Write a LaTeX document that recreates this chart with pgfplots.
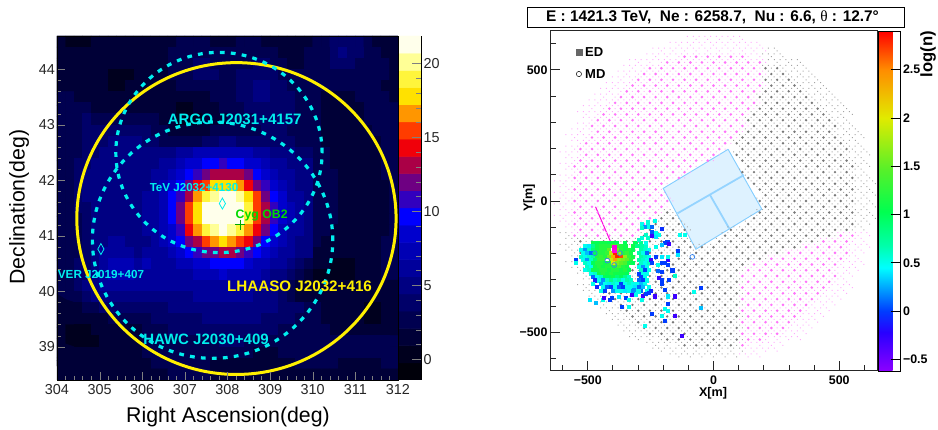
\documentclass[border=0pt]{standalone}
\usepackage{fontspec}
\usepackage{pgfplots}
\usepackage{pgfplotstable}
\pgfplotsset{compat=1.18}
\setmainfont{Liberation Sans}
\newfontfamily\srf{Liberation Serif}
\newcommand\fs[1]{\fontsize{#1}{#1}\selectfont}
\definecolor{pkB}{RGB}{255,115,250}
\definecolor{pkT}{RGB}{255,170,252}
\definecolor{gyB}{RGB}{120,120,120}
\definecolor{gyT}{RGB}{165,165,165}
\definecolor{cy}{RGB}{0,238,238}
\definecolor{yl}{RGB}{255,240,0}
\definecolor{pond}{RGB}{130,205,255}
\definecolor{pondf}{RGB}{222,242,255}
\definecolor{navy}{RGB}{0,0,55}
\newcommand\tinyd{\pgfpathrectangle{\pgfqpoint{5.25pt}{-.5pt}}{\pgfqpoint{1pt}{1pt}}\pgfpathrectangle{\pgfqpoint{2.4pt}{2.4pt}}{\pgfqpoint{1pt}{1pt}}\pgfpathrectangle{\pgfqpoint{-3.4pt}{2.4pt}}{\pgfqpoint{1pt}{1pt}}\pgfusepathqfill}
\pgfdeclareplotmark{pkbig}{\pgfsetfillcolor{pkT}\tinyd\pgfsetfillcolor{pkB}\pgfpathcircle{\pgfpointorigin}{1.45pt}\pgfusepathqfill}
\pgfdeclareplotmark{gybig}{\pgfsetfillcolor{gyT}\tinyd\pgfsetfillcolor{gyB}\pgfpathcircle{\pgfpointorigin}{1.35pt}\pgfusepathqfill}
\pgfdeclareplotmark{pksm}{\pgfsetfillcolor{pkT}\tinyd}
\pgfdeclareplotmark{gysm}{\pgfsetfillcolor{gyT}\tinyd}
\pgfplotsset{
 colormap={hm}{rgb255=(0,0,10) rgb255=(0,0,30) rgb255=(0,0,55) rgb255=(0,0,80) rgb255=(0,0,105) rgb255=(0,0,130) rgb255=(0,0,155) rgb255=(0,0,180) rgb255=(0,0,205) rgb255=(0,0,255) rgb255=(50,0,190) rgb255=(110,0,130) rgb255=(170,0,70) rgb255=(240,0,10) rgb255=(255,60,0) rgb255=(255,150,0) rgb255=(255,225,0) rgb255=(255,245,60) rgb255=(255,255,150) rgb255=(255,255,235)},
 colormap={rb}{rgb255(0pt)=(140,0,255) rgb255(40pt)=(40,0,255) rgb255(62pt)=(0,60,255) rgb255(107pt)=(0,255,255) rgb255(130pt)=(0,255,170) rgb255(165pt)=(0,255,80) rgb255(210pt)=(90,240,40) rgb255(262pt)=(225,235,0) rgb255(312pt)=(255,140,0) rgb255(352pt)=(255,0,0)},
 pkb/.style={only marks,mark=pkbig}, gyb/.style={only marks,mark=gybig},
 pks/.style={only marks,mark=pksm}, gys/.style={only marks,mark=gysm},
 sq/.style={scatter,only marks,mark=square*,mark size=1.55pt,mark options={line width=0pt},point meta=explicit,scatter/use mapped color={draw=mapped color,fill=mapped color}},
}
\newcommand\R[3]{\addplot[#1] table[row sep=\\,header=false,x index=0,y expr=#2]{#3};}
\newcommand\C[2]{\addplot[sq] table[row sep=\\,header=false,x index=0,meta index=1,y expr=#1]{#2};}
\newcommand\Tx[4][]{\node[inner sep=0pt,#1] at ({#2*1pt},{(430-#3)*1pt}) {#4};}
\begin{document}
\begin{tikzpicture}
\path[use as bounding box] (0,0) rectangle (938pt,430pt);
\begin{axis}[at={(57pt,50pt)},anchor=south west,scale only axis,width=341pt,height=344pt,
 xmin=304,xmax=312,ymin=38.4,ymax=44.6,colormap name=hm,colormap access=piecewise constant,
 point meta min=-1.4,point meta max=21.85,axis on top,tick align=inside,xtick pos=left,ytick pos=left,
 xtick={304,...,312},ytick={39,...,44},minor x tick num=4,minor y tick num=4,
 major tick length=8pt,minor tick length=4pt,
 /pgf/number format/assume math mode=true,
 tick label style={font=\fs{14.4},color=black!85},xticklabel style={yshift=-1pt},yticklabel style={xshift=1.5pt},
 axis line style={line width=.5pt}]
\addplot[fill=navy,draw=none] coordinates {(304,38.4)(312,38.4)(312,44.6)(304,44.6)(304,38.4)};
\addplot[matrix plot*,mesh/cols=40,point meta=explicit] table[row sep=\\,header=false,meta index=0,x expr={304.1+0.2*mod(\coordindex,40)},y expr={44.5-0.2*floor(\coordindex/40)}]{
1\\0\\0\\0\\1\\1\\1\\2\\2\\2\\2\\2\\2\\2\\3\\3\\3\\3\\2\\2\\2\\3\\3\\3\\2\\2\\2\\2\\2\\2\\3\\3\\4\\4\\4\\4\\3\\2\\2\\2\\
1\\1\\1\\1\\1\\1\\1\\2\\2\\2\\2\\2\\2\\3\\3\\3\\3\\3\\3\\3\\3\\3\\3\\3\\3\\3\\2\\2\\2\\3\\3\\3\\4\\5\\4\\4\\3\\3\\2\\2\\
2\\2\\2\\1\\1\\1\\1\\1\\1\\1\\2\\2\\2\\3\\3\\3\\4\\4\\3\\3\\3\\3\\3\\4\\4\\3\\3\\2\\2\\3\\3\\3\\4\\4\\4\\3\\3\\3\\3\\2\\
2\\2\\2\\2\\1\\1\\0\\0\\0\\1\\1\\2\\2\\3\\3\\3\\4\\4\\4\\3\\3\\4\\4\\4\\4\\4\\3\\3\\3\\3\\3\\3\\3\\3\\3\\3\\3\\3\\3\\2\\
2\\2\\2\\2\\1\\1\\0\\0\\1\\1\\1\\2\\2\\2\\3\\3\\3\\3\\3\\3\\3\\4\\4\\5\\5\\4\\4\\3\\3\\3\\3\\3\\3\\3\\3\\3\\3\\3\\2\\2\\
3\\3\\2\\2\\2\\1\\1\\1\\1\\1\\2\\2\\2\\2\\1\\1\\2\\2\\3\\3\\3\\4\\4\\5\\5\\4\\4\\4\\3\\3\\3\\2\\2\\2\\2\\3\\3\\3\\3\\2\\
3\\3\\3\\3\\2\\2\\2\\2\\2\\2\\2\\2\\2\\1\\0\\0\\1\\1\\2\\3\\3\\3\\4\\4\\4\\4\\4\\4\\3\\3\\3\\2\\2\\2\\2\\2\\3\\3\\3\\3\\
3\\3\\3\\4\\3\\3\\3\\3\\3\\3\\3\\3\\2\\1\\0\\0\\0\\1\\2\\2\\3\\3\\3\\4\\4\\4\\4\\4\\3\\3\\3\\2\\2\\1\\2\\2\\3\\3\\3\\3\\
3\\3\\3\\4\\4\\4\\4\\4\\4\\4\\4\\3\\3\\2\\1\\1\\1\\2\\3\\3\\3\\3\\3\\3\\4\\4\\4\\3\\3\\3\\3\\2\\1\\1\\1\\2\\2\\3\\3\\3\\
3\\3\\3\\4\\4\\4\\5\\5\\5\\5\\4\\4\\3\\3\\3\\3\\3\\4\\4\\5\\5\\4\\4\\4\\4\\4\\4\\4\\3\\3\\3\\2\\1\\1\\1\\1\\2\\2\\3\\3\\
3\\3\\3\\4\\4\\5\\5\\5\\5\\5\\5\\5\\5\\5.5\\6\\6.4\\7\\7.3\\7.7\\7.8\\7.7\\7.5\\7\\6.5\\6\\5.5\\5\\4.5\\4\\4\\3\\3\\2\\1\\1\\1\\2\\2\\3\\3\\
3\\3\\4\\4\\5\\5\\5\\5\\5\\4.7\\4.9\\5.2\\5.6\\6.2\\7\\7.9\\8.7\\9.5\\10.1\\10.3\\10.2\\9.7\\9\\8.1\\7.2\\6.5\\5.8\\5.3\\5\\4.8\\3\\3\\2\\2\\1\\1\\2\\2\\3\\3\\
3\\3\\4\\5\\5\\5\\5\\5\\5\\4.9\\5.1\\5.6\\6.2\\7.2\\8.4\\9.7\\11.1\\12.2\\13.1\\13.5\\13.3\\12.6\\11.4\\10.1\\8.7\\7.6\\6.5\\5.8\\5.2\\5\\3\\3\\3\\2\\2\\2\\2\\2\\3\\3\\
3\\3\\4\\5\\5\\5\\5\\5\\5\\5\\5.4\\6\\6.9\\8.3\\9.9\\11.8\\14.2\\16\\17.5\\18\\17.6\\16.5\\14.8\\12.3\\10.4\\8.8\\7.3\\6.3\\5.5\\5\\3\\3\\3\\2\\2\\2\\2\\2\\2\\3\\
3\\3\\4\\5\\5\\5\\5\\5\\5\\5.1\\5.6\\6.4\\7.5\\9.2\\11.2\\13.5\\16.5\\18.9\\20.6\\21.2\\20.9\\19.6\\17.5\\15\\11.8\\9.8\\7.9\\6.7\\5.7\\5.3\\3\\3\\3\\2\\2\\2\\2\\2\\2\\3\\
3\\3\\4\\4\\5\\5\\5\\5\\5\\5.2\\5.7\\6.6\\7.8\\9.7\\11.9\\15\\18\\20.7\\21.8\\21.8\\21.8\\21\\18.8\\16\\12.6\\10.4\\8.3\\6.9\\5.9\\5.4\\3\\3\\3\\2\\2\\2\\2\\2\\2\\3\\
3\\3\\3\\4\\5\\5\\5\\5\\5\\5.2\\5.7\\6.6\\7.8\\9.7\\11.9\\15\\18\\20.7\\21.8\\21.8\\21.8\\21\\18.8\\16\\12.6\\10.4\\8.3\\6.9\\5.9\\5.4\\3\\3\\3\\2\\2\\2\\2\\2\\2\\3\\
3\\3\\3\\4\\5\\5\\5\\5\\5\\5.1\\5.6\\6.3\\7.4\\9\\11\\13.8\\16.3\\18.5\\20.2\\20.9\\20.5\\19.1\\17\\14.5\\11.6\\9.6\\7.8\\6.6\\5.7\\5.3\\3\\3\\2\\2\\2\\2\\2\\2\\2\\3\\
3\\3\\3\\4\\5\\5\\6\\6\\5\\5\\5.3\\5.9\\6.8\\8.1\\9.6\\11.4\\13.6\\15.3\\16.7\\17.4\\17.1\\16\\14.2\\11.9\\10.1\\8.5\\7.1\\6.2\\5.5\\5.1\\3\\2\\2\\2\\2\\2\\2\\2\\3\\3\\
3\\3\\3\\4\\5\\6\\6\\6\\6\\5.3\\5.6\\6\\6.6\\7.5\\8.6\\9.8\\11\\11.6\\12.5\\12.8\\12.6\\12\\10.9\\9.6\\8.4\\7.3\\6.3\\5.7\\5.2\\4.9\\2\\2\\1\\1\\1\\1\\2\\2\\3\\3\\
3\\3\\4\\4\\5\\6\\7\\7\\7\\6.7\\6.9\\6.6\\6.5\\6.6\\7\\7.5\\8.3\\9\\9.5\\9.7\\9.6\\9.2\\8.5\\7.7\\6.9\\6.3\\5.6\\4.7\\3.9\\3\\1\\1\\0\\0\\0\\1\\1\\2\\3\\3\\
3\\3\\4\\4\\5\\6\\7\\7\\7\\6.6\\6.7\\6.3\\6\\5.9\\6.2\\6.7\\7.1\\7.5\\7.8\\7.9\\7.8\\7.6\\7.2\\6.8\\6.4\\5.5\\4.6\\3.4\\2.2\\1.1\\0\\0\\0\\0\\0\\1\\2\\2\\3\\3\\
3\\3\\4\\5\\5\\6\\6\\6\\6\\6\\6.1\\6.2\\6\\5.8\\5.7\\5.9\\6\\6.2\\6.3\\6.4\\6.3\\6.2\\6\\5.8\\5.6\\5\\4\\3\\2\\1\\1\\1\\1\\1\\1\\1\\1\\2\\2\\2\\
3\\3\\3\\4\\5\\5\\5\\5\\5\\5\\5\\5\\5\\5.2\\5.3\\5.4\\5.6\\5.7\\5.7\\5.8\\5.7\\5.7\\5.6\\5.5\\5.2\\5\\4\\3\\2\\2\\2\\2\\2\\2\\1\\1\\1\\1\\1\\1\\
1\\2\\2\\3\\3\\4\\4\\4\\4\\4\\4\\4\\4\\5\\5\\5\\5\\5\\5\\5\\5\\5\\5\\5\\5\\5\\4\\4\\4\\3\\3\\2\\2\\2\\1\\1\\0\\0\\1\\1\\
1\\1\\1\\1\\2\\2\\3\\3\\3\\3\\3\\4\\4\\4\\4\\4\\4\\5\\5\\5\\5\\5\\5\\5\\4\\4\\4\\4\\3\\3\\3\\2\\2\\2\\2\\1\\0\\0\\1\\1\\
1\\0\\0\\0\\1\\1\\2\\2\\2\\2\\3\\3\\3\\4\\4\\4\\4\\4\\4\\4\\4\\4\\4\\4\\4\\4\\3\\3\\3\\3\\3\\3\\2\\2\\2\\2\\2\\2\\2\\2\\
1\\0\\0\\0\\0\\1\\1\\1\\2\\2\\3\\3\\3\\3\\3\\3\\3\\3\\3\\4\\4\\4\\3\\3\\3\\3\\3\\3\\3\\3\\3\\3\\3\\3\\3\\3\\3\\3\\3\\3\\
2\\1\\1\\1\\1\\1\\1\\2\\2\\2\\3\\3\\3\\3\\3\\3\\3\\3\\3\\3\\3\\3\\3\\2\\2\\2\\3\\3\\3\\3\\3\\3\\3\\3\\3\\3\\3\\3\\3\\3\\
2\\2\\2\\2\\2\\2\\2\\2\\2\\2\\2\\3\\3\\3\\3\\3\\3\\3\\2\\2\\2\\2\\2\\2\\2\\2\\2\\2\\3\\3\\3\\3\\3\\2\\2\\2\\2\\2\\3\\3\\
1\\2\\2\\2\\2\\2\\2\\2\\2\\2\\2\\2\\2\\3\\3\\3\\3\\3\\2\\2\\2\\2\\2\\1\\1\\2\\2\\2\\2\\2\\2\\2\\2\\2\\2\\2\\2\\2\\2\\2\\
};
\draw[yl,line width=3pt] (axis cs:308.21,41.31) ellipse [x radius=3.745,y radius=2.81];
\draw[cy,line width=3.2pt,dash pattern=on 4.8pt off 6.2pt] (axis cs:307.8,42.5) ellipse [x radius=2.42,y radius=1.805];
\draw[cy,line width=3.2pt,dash pattern=on 4.8pt off 6.2pt] (axis cs:307.65,40.92) ellipse [x radius=2.82,y radius=2.13];
\addplot[only marks,mark=diamond,mark size=5.5pt,mark options={xscale=.75,draw=cy,line width=.8pt}] coordinates {(307.88,41.58)(305.03,40.76)};
\addplot[only marks,mark=+,mark size=5pt,mark options={draw=green!65!black,line width=.6pt}] coordinates {(308.3,41.2)};
\end{axis}
\begin{axis}[at={(399pt,50pt)},anchor=south west,scale only axis,width=22pt,height=344pt,
 xmin=0,xmax=1,ymin=-1.4,ymax=21.85,colormap name=hm,colormap access=piecewise constant,
 point meta min=-1.4,point meta max=21.85,axis on top,axis x line=none,axis y line*=right,
 ytick={0,5,...,20},minor y tick num=4,tick align=inside,major tick length=9pt,minor tick length=5pt,
 /pgf/number format/assume math mode=true,tick label style={font=\fs{14.4},color=black!85},yticklabel style={xshift=-1pt}]
\addplot[matrix plot*,mesh/cols=2,point meta=y] coordinates {
(0,-0.82)(1,-0.82)(0,0.34)(1,0.34)(0,1.51)(1,1.51)(0,2.67)(1,2.67)(0,3.83)(1,3.83)(0,4.99)(1,4.99)(0,6.16)(1,6.16)(0,7.32)(1,7.32)(0,8.48)(1,8.48)(0,9.64)(1,9.64)(0,10.81)(1,10.81)(0,11.97)(1,11.97)(0,13.13)(1,13.13)(0,14.29)(1,14.29)(0,15.46)(1,15.46)(0,16.62)(1,16.62)(0,17.78)(1,17.78)(0,18.94)(1,18.94)(0,20.11)(1,20.11)(0,21.27)(1,21.27)};
\end{axis}
\begin{axis}[at={(550pt,59pt)},anchor=south west,scale only axis,width=327pt,height=340pt,
 xmin=-650,xmax=650,ymin=-648,ymax=648,colormap name=rb,point meta min=-0.62,point meta max=2.9,
 tick align=inside,xtick pos=left,ytick pos=left,xtick={-500,0,500},ytick={-500,0,500},
 xticklabels={−500,0,500},yticklabels={−500,0,500},
 minor xtick={-600,-400,-300,-200,-100,100,200,300,400,600},minor ytick={-600,-400,-300,-200,-100,100,200,300,400,600},
 major tick length=10pt,minor tick length=5.5pt,
 tick label style={font=\fs{12.4}\bfseries},xticklabel style={yshift=-1pt},yticklabel style={xshift=1pt},
 axis line style={line width=1pt,black!85},tick style={line width=.8pt,black!85},
 colorbar,colorbar shift/.style={xshift=1pt},
 colorbar style={width=22pt,ytick={-0.5,0,0.5,1,1.5,2,2.5},yticklabels={−0.5,0,0.5,1,1.5,2,2.5},tick align=inside,ytick pos=right,yticklabel pos=right,
  major tick length=10pt,tick label style={font=\fs{12.4}\bfseries},yticklabel style={xshift=-1pt},axis line style={line width=.6pt},tick style={line width=.8pt,black}}]
\R{pkb}{550}{-115\\-69\\-23\\23\\69\\115\\}
\R{pkb}{528}{-184\\-138\\-92\\-46\\0\\46\\92\\138\\184\\}
\R{pkb}{506}{-253\\-207\\-161\\-115\\-69\\-23\\23\\69\\115\\161\\}
\R{gyb}{506}{207\\253\\}
\R{pkb}{484}{-276\\-230\\-184\\-138\\-92\\-46\\0\\46\\92\\138\\184\\}
\R{gyb}{484}{230\\276\\}
\R{pkb}{462}{-299\\-253\\-207\\-161\\-115\\-69\\-23\\23\\69\\115\\161\\}
\R{gyb}{462}{207\\253\\299\\}
\R{pkb}{440}{-322\\-276\\-230\\-184\\-138\\-92\\-46\\0\\46\\92\\138\\184\\}
\R{gyb}{440}{230\\276\\322\\}
\R{pkb}{418}{-345\\-299\\-253\\-207\\-161\\-115\\-69\\-23\\23\\69\\115\\161\\}
\R{gyb}{418}{207\\253\\299\\345\\}
\R{pkb}{396}{-368\\-322\\-276\\-230\\-184\\-138\\-92\\-46\\0\\46\\92\\138\\}
\R{gyb}{396}{184\\230\\276\\322\\368\\}
\R{pkb}{374}{-391\\-345\\-299\\-253\\-207\\-161\\-115\\-69\\-23\\23\\69\\115\\161\\}
\R{gyb}{374}{207\\253\\299\\345\\391\\}
\R{pkb}{352}{-414\\-368\\-322\\-276\\-230\\-184\\-138\\-92\\-46\\0\\46\\92\\138\\}
\R{gyb}{352}{184\\230\\276\\322\\368\\414\\}
\R{pkb}{330}{-437\\-391\\-345\\-299\\-253\\-207\\-161\\-115\\-69\\-23\\23\\69\\115\\}
\R{gyb}{330}{161\\207\\253\\299\\345\\391\\437\\}
\R{pkb}{308}{-460\\-414\\-368\\-322\\-276\\-230\\-184\\-138\\-92\\-46\\0\\46\\92\\}
\R{gyb}{308}{138\\184\\230\\276\\322\\368\\414\\460\\}
\R{pkb}{286}{-483\\-437\\-391\\-345\\-299\\-253\\-207\\-161\\-115\\-69\\-23\\23\\69\\115\\}
\R{gyb}{286}{161\\207\\253\\299\\345\\391\\437\\483\\}
\R{pkb}{264}{-460\\-414\\-368\\-322\\-276\\-230\\-184\\-138\\-92\\-46\\0\\46\\92\\}
\R{gyb}{264}{138\\184\\230\\276\\322\\368\\414\\460\\}
\R{pkb}{242}{-483\\-437\\-391\\-345\\-299\\-253\\-207\\-161\\-115\\-69\\-23\\23\\69\\}
\R{gyb}{242}{115\\161\\207\\253\\299\\345\\391\\437\\483\\}
\R{pkb}{220}{-506\\-460\\-414\\-368\\-322\\-276\\-230\\-184\\-138\\-92\\-46\\0\\46\\}
\R{gyb}{220}{92\\138\\184\\230\\276\\322\\368\\414\\460\\506\\}
\R{pkb}{198}{-529\\-483\\-437\\-391\\-345\\-299\\-253\\-207\\-161\\-115\\-69\\-23\\23\\}
\R{gyb}{198}{115\\161\\207\\253\\299\\345\\391\\437\\483\\529\\}
\R{pkb}{176}{-506\\-460\\-414\\-368\\-322\\-276\\-230\\-184\\-138\\-92\\-46\\0\\}
\R{gyb}{176}{92\\138\\184\\230\\276\\322\\368\\414\\460\\506\\}
\R{pkb}{154}{-529\\-483\\-437\\-391\\-345\\-299\\-253\\-207\\-161\\-115\\-69\\-23\\}
\R{gyb}{154}{115\\161\\207\\253\\299\\345\\391\\437\\483\\529\\}
\R{pkb}{132}{-552\\-506\\-460\\-414\\-368\\-322\\-276\\-230\\-184\\-138\\-92\\}
\R{gyb}{132}{138\\184\\230\\276\\322\\368\\414\\460\\506\\552\\}
\R{pkb}{110}{-529\\-483\\-437\\-391\\-345\\-299\\-253\\-207\\-161\\-115\\}
\R{gyb}{110}{115\\161\\207\\253\\299\\345\\391\\437\\483\\529\\}
\R{pkb}{88}{-552\\-506\\-460\\-414\\-368\\-322\\-276\\-230\\-184\\-138\\}
\R{gyb}{88}{138\\184\\230\\276\\322\\368\\414\\460\\506\\552\\}
\R{pkb}{66}{-529\\-483\\-437\\-391\\-345\\-299\\-253\\-207\\}
\R{gyb}{66}{161\\207\\253\\299\\345\\391\\437\\483\\529\\}
\R{pkb}{44}{-552\\-506\\-460\\-414\\-368\\-322\\-276\\-230\\}
\R{gyb}{44}{184\\230\\276\\322\\368\\414\\460\\506\\552\\}
\R{pkb}{22}{-529\\-483\\-437\\-391\\-345\\-299\\-253\\-207\\}
\R{gyb}{22}{207\\253\\299\\345\\391\\437\\483\\529\\}
\R{pkb}{0}{-552\\-506\\-460\\-414\\-368\\-322\\-276\\-230\\-184\\}
\R{gyb}{0}{184\\230\\276\\322\\368\\414\\460\\506\\552\\}
\R{pkb}{-22}{-529\\-483\\-437\\-391\\-345\\-299\\-253\\-207\\}
\R{gyb}{-22}{207\\253\\299\\345\\391\\437\\483\\529\\}
\R{pkb}{-44}{-552\\-506\\-460\\-414\\-368\\-322\\-276\\-230\\}
\R{gyb}{-44}{-184\\184\\230\\276\\322\\368\\414\\460\\506\\552\\}
\R{pkb}{-66}{-529\\-483\\-437\\-391\\-345\\-299\\-253\\}
\R{gyb}{-66}{-207\\-161\\161\\207\\253\\299\\345\\391\\437\\483\\529\\}
\R{pkb}{-88}{-552\\-506\\-460\\-414\\-368\\-322\\-276\\}
\R{gyb}{-88}{-230\\-184\\-138\\138\\184\\230\\276\\322\\368\\414\\460\\506\\552\\}
\R{pkb}{-110}{-529\\-483\\-437\\-391\\-345\\-299\\}
\R{gyb}{-110}{-253\\-207\\-161\\-115\\69\\115\\161\\207\\253\\299\\345\\391\\437\\483\\529\\}
\R{pkb}{-132}{-552\\-506\\-460\\-414\\-368\\-322\\506\\552\\}
\R{gyb}{-132}{-276\\-230\\-184\\-138\\46\\92\\138\\184\\230\\276\\322\\368\\414\\460\\}
\R{pkb}{-154}{437\\483\\529\\}
\R{gyb}{-154}{-529\\-483\\-437\\-391\\-345\\-299\\-253\\-207\\-161\\-115\\23\\69\\115\\161\\207\\253\\299\\345\\391\\}
\R{pkb}{-176}{368\\414\\460\\506\\}
\R{gyb}{-176}{-506\\-460\\-414\\-368\\-322\\-276\\-230\\-184\\-138\\-92\\-46\\0\\46\\92\\138\\184\\230\\276\\322\\}
\R{pkb}{-198}{299\\345\\391\\437\\483\\529\\}
\R{gyb}{-198}{-529\\-483\\-437\\-391\\-345\\-299\\-253\\-207\\-161\\-115\\-69\\-23\\23\\69\\115\\161\\207\\253\\}
\R{pkb}{-220}{230\\276\\322\\368\\414\\460\\506\\}
\R{gyb}{-220}{-506\\-460\\-414\\-368\\-322\\-276\\-230\\-184\\-138\\-92\\-46\\0\\46\\92\\138\\184\\}
\R{pkb}{-242}{161\\207\\253\\299\\345\\391\\437\\483\\}
\R{gyb}{-242}{-483\\-437\\-391\\-345\\-299\\-253\\-207\\-161\\-115\\-69\\-23\\23\\69\\115\\}
\R{pkb}{-264}{138\\184\\230\\276\\322\\368\\414\\460\\}
\R{gyb}{-264}{-460\\-414\\-368\\-322\\-276\\-230\\-184\\-138\\-92\\-46\\0\\46\\92\\}
\R{pkb}{-286}{115\\161\\207\\253\\299\\345\\391\\437\\483\\}
\R{gyb}{-286}{-483\\-437\\-391\\-345\\-299\\-253\\-207\\-161\\-115\\-69\\-23\\23\\69\\}
\R{pkb}{-308}{138\\184\\230\\276\\322\\368\\414\\460\\}
\R{gyb}{-308}{-460\\-414\\-368\\-322\\-276\\-230\\-184\\-138\\-92\\-46\\0\\46\\92\\}
\R{pkb}{-330}{115\\161\\207\\253\\299\\345\\391\\437\\}
\R{gyb}{-330}{-437\\-391\\-345\\-299\\-253\\-207\\-161\\-115\\-69\\-23\\23\\69\\}
\R{pkb}{-352}{138\\184\\230\\276\\322\\368\\414\\}
\R{gyb}{-352}{-414\\-368\\-322\\-276\\-230\\-184\\-138\\-92\\-46\\0\\46\\92\\}
\R{pkb}{-374}{115\\161\\207\\253\\299\\345\\391\\}
\R{gyb}{-374}{-391\\-345\\-299\\-253\\-207\\-161\\-115\\-69\\-23\\23\\69\\}
\R{pkb}{-396}{138\\184\\230\\276\\322\\368\\}
\R{gyb}{-396}{-368\\-322\\-276\\-230\\-184\\-138\\-92\\-46\\0\\46\\92\\}
\R{pkb}{-418}{115\\161\\207\\253\\299\\345\\}
\R{gyb}{-418}{-345\\-299\\-253\\-207\\-161\\-115\\-69\\-23\\23\\69\\}
\R{pkb}{-440}{138\\184\\230\\276\\322\\}
\R{gyb}{-440}{-322\\-276\\-230\\-184\\-138\\-92\\-46\\0\\46\\92\\}
\R{pkb}{-462}{115\\161\\207\\253\\299\\}
\R{gyb}{-462}{-299\\-253\\-207\\-161\\-115\\-69\\-23\\23\\69\\}
\R{pkb}{-484}{138\\184\\230\\276\\}
\R{gyb}{-484}{-276\\-230\\-184\\-138\\-92\\-46\\0\\46\\92\\}
\R{pkb}{-506}{115\\161\\207\\253\\}
\R{gyb}{-506}{-253\\-207\\-161\\-115\\-69\\-23\\23\\69\\}
\R{pkb}{-528}{138\\184\\}
\R{gyb}{-528}{-184\\-138\\-92\\-46\\0\\46\\92\\}
\R{pkb}{-550}{115\\}
\R{gyb}{-550}{-115\\-69\\-23\\23\\69\\}
\R{pks}{616}{-92\\-46\\0\\46\\92\\}
\R{pks}{594}{-161\\-115\\-69\\-23\\23\\69\\115\\161\\}
\R{pks}{572}{-230\\-184\\-138\\-92\\-46\\0\\46\\92\\138\\184\\}
\R{gys}{572}{230\\}
\R{pks}{550}{-253\\-207\\-161\\161\\}\R{gys}{550}{207\\253\\}
\R{pks}{528}{-322\\-276\\-230\\}\R{gys}{528}{230\\276\\322\\}
\R{pks}{506}{-345\\-299\\}\R{gys}{506}{299\\345\\}
\R{pks}{484}{-368\\-322\\}\R{gys}{484}{322\\368\\}
\R{pks}{462}{-391\\-345\\}\R{gys}{462}{345\\391\\}
\R{pks}{440}{-414\\-368\\}\R{gys}{440}{368\\414\\}
\R{pks}{418}{-437\\-391\\}\R{gys}{418}{391\\437\\}
\R{pks}{396}{-460\\-414\\}\R{gys}{396}{414\\460\\}
\R{pks}{374}{-483\\-437\\}\R{gys}{374}{437\\483\\}
\R{pks}{352}{-506\\-460\\}\R{gys}{352}{460\\506\\}
\R{pks}{330}{-529\\-483\\}\R{gys}{330}{483\\529\\}
\R{pks}{308}{-506\\}\R{gys}{308}{506\\}
\R{pks}{286}{-529\\}\R{gys}{286}{529\\}
\R{pks}{264}{-552\\-506\\}\R{gys}{264}{506\\552\\}
\R{pks}{242}{-575\\-529\\}\R{gys}{242}{529\\575\\}
\R{pks}{220}{-552\\}\R{gys}{220}{552\\}
\R{pks}{198}{-575\\}\R{gys}{198}{575\\}
\R{pks}{176}{-598\\-552\\}\R{gys}{176}{552\\598\\}
\R{pks}{154}{-575\\}\R{gys}{154}{575\\}
\R{pks}{132}{-598\\}\R{gys}{132}{598\\}
\R{pks}{110}{-575\\}\R{gys}{110}{575\\}
\R{pks}{88}{-598\\}\R{gys}{88}{598\\}
\R{pks}{66}{-621\\-575\\}\R{gys}{66}{575\\621\\}
\R{pks}{44}{-598\\}\R{gys}{44}{598\\}
\R{pks}{22}{-621\\-575\\}\R{gys}{22}{575\\621\\}
\R{pks}{0}{-598\\}\R{gys}{0}{598\\}
\R{pks}{-22}{-621\\-575\\}\R{gys}{-22}{575\\621\\}
\R{pks}{-44}{-598\\}\R{gys}{-44}{598\\}
\R{pks}{-66}{-621\\-575\\}\R{gys}{-66}{575\\621\\}
\R{pks}{-88}{-598\\}\R{gys}{-88}{598\\}
\R{pks}{-110}{-575\\}\R{gys}{-110}{575\\}
\R{gys}{-132}{-598\\}\R{pks}{-132}{598\\}
\R{gys}{-154}{-575\\}\R{pks}{-154}{575\\}
\R{gys}{-176}{-598\\-552\\}\R{pks}{-176}{552\\598\\}
\R{gys}{-198}{-575\\}\R{pks}{-198}{575\\}
\R{gys}{-220}{-552\\}\R{pks}{-220}{552\\}
\R{gys}{-242}{-575\\-529\\}\R{pks}{-242}{529\\575\\}
\R{gys}{-264}{-552\\-506\\}\R{pks}{-264}{506\\552\\}
\R{gys}{-286}{-529\\}\R{pks}{-286}{529\\}
\R{gys}{-308}{-506\\}\R{pks}{-308}{506\\}
\R{gys}{-330}{-529\\-483\\}\R{pks}{-330}{483\\529\\}
\R{gys}{-352}{-506\\-460\\}\R{pks}{-352}{460\\506\\}
\R{gys}{-374}{-483\\-437\\}\R{pks}{-374}{437\\483\\}
\R{gys}{-396}{-460\\-414\\}\R{pks}{-396}{414\\460\\}
\R{gys}{-418}{-437\\-391\\}\R{pks}{-418}{391\\437\\}
\R{gys}{-440}{-414\\-368\\}\R{pks}{-440}{368\\414\\}
\R{gys}{-462}{-391\\-345\\}\R{pks}{-462}{345\\391\\}
\R{gys}{-484}{-368\\-322\\}\R{pks}{-484}{322\\368\\}
\R{gys}{-506}{-345\\-299\\}\R{pks}{-506}{299\\345\\}
\R{gys}{-528}{-322\\-276\\-230\\}\R{pks}{-528}{230\\276\\322\\}
\R{gys}{-550}{-253\\-207\\-161\\}\R{pks}{-550}{161\\207\\253\\}
\R{gys}{-572}{-230\\-184\\-138\\-92\\-46\\0\\46\\92\\}\R{pks}{-572}{138\\184\\230\\}
\R{gys}{-594}{-161\\-115\\-69\\-23\\23\\69\\}\R{pks}{-594}{115\\161\\}
\addplot[fill=pondf,draw=pond,line width=.9pt] coordinates {(58,197)(-200,48)(-70,-184)(192,-31)(58,197)};
\addplot[draw=pond!85,line width=1.8pt] coordinates {(-143,-47)(121,99)};
\addplot[draw=pond!85,line width=1.8pt] coordinates {(-14,23)(62,-104)};
\addplot[only marks,mark=square*,mark size=3pt,mark options={fill=black!60,draw=black!60}] coordinates {(-532,566)};
\addplot[only marks,mark=o,mark size=2.6pt,mark options={draw=black,line width=.5pt}] coordinates {(-535,484)};
\addplot[draw={rgb,255:red,255;green,0;blue,220},line width=1pt] coordinates {(-469,-22)(-395,-187)};
\C{-160}{-480 1.1\\-464 1\\-448 1.1\\-432 1.1\\-416 1\\-400 1.1\\-384 1\\-352 1\\-310 1\\-288 .8\\}
\C{-173}{-510 .5\\-494 .4\\-478 .8\\-462 1.1\\-446 1.2\\-430 1.2\\-414 1.2\\-398 1.4\\-382 1.3\\-366 1.2\\-350 1.1\\-318 1.1\\-302 .8\\-286 .7\\-270 .6\\}
\C{-186}{-528 .5\\-512 .2\\-496 .6\\-480 .9\\-464 1.1\\-448 1.2\\-432 1.2\\-416 1.5\\-384 1.6\\-368 1.2\\-352 1.1\\-336 1.2\\-320 1\\-288 .7\\-272 .6\\-256 .5\\}
\C{-199}{-520 .5\\-504 .3\\-488 .1\\-472 1\\-456 1.2\\-440 1.2\\-424 1.3\\-408 1.9\\-392 2.8\\-376 1.7\\-360 1.2\\-344 1.3\\-328 1.1\\-296 .7\\-280 .5\\-264 .1\\}
\C{-212}{-528 .6\\-512 .5\\-496 .6\\-480 .7\\-464 1.2\\-448 1.3\\-432 1.2\\-416 1.6\\-400 2.3\\-384 2.8\\-368 2.7\\-352 1.7\\-336 1.3\\-320 1.1\\-288 .7\\-272 .6\\-256 .5\\}
\C{-225}{-548 0\\-520 .5\\-504 .2\\-488 .6\\-472 .9\\-456 1.3\\-440 1.3\\-408 1.9\\-392 2.4\\-376 1.7\\-360 1.6\\-344 1.5\\-328 1.2\\-296 .7\\-280 .6\\-264 .5\\-248 0\\}
\C{-238}{-545 .5\\-512 .6\\-496 .5\\-480 1\\-464 1.2\\-448 1.2\\-432 1.1\\-416 1.2\\-400 2\\-384 1.6\\-368 1.5\\-352 1.4\\-336 1.1\\-320 1\\-288 .6\\-272 .5\\-256 .6\\}
\C{-251}{-504 .6\\-488 .5\\-472 1.1\\-456 1.2\\-440 1.1\\-424 1.2\\-408 1.2\\-392 1.2\\-376 1.4\\-360 1.2\\-344 1.1\\-296 .5\\-280 .2\\-264 .5\\}
\C{-264}{-512 .5\\-496 .6\\-480 1.1\\-464 1.1\\-448 1.2\\-432 1.2\\-416 1.1\\-400 1.2\\-384 1.2\\-368 1.1\\-352 1.2\\-336 1\\-288 .6\\-272 0\\-256 .5\\}
\C{-277}{-488 .5\\-472 .6\\-456 1.1\\-440 1.2\\-424 1.1\\-408 1.2\\-392 1.1\\-376 1.1\\-360 1.1\\-344 1\\-296 0\\-280 .5\\-264 .5\\}
\C{-290}{-480 .1\\-464 .5\\-448 .6\\-432 1\\-416 1\\-400 1.1\\-384 .9\\-368 1\\-352 .8\\-336 .6\\-288 0\\-272 .5\\}
\C{-303}{-472 -.1\\-456 .5\\-440 .2\\-424 .6\\-408 .8\\-392 .6\\-376 .7\\-360 .5\\-344 .7\\-328 .6\\-296 .1\\-280 0\\-264 .5\\}
\C{-316}{-480 .5\\-448 .2\\-432 .5\\-416 .4\\-400 .6\\-384 .5\\-368 0\\-352 .5\\-336 .6\\-320 .5\\-304 .5\\-288 .3\\-272 .5\\}
\C{-329}{-464 -.1\\-440 .5\\-424 .1\\-408 0\\-392 .5\\-376 .1\\-360 0\\-344 .5\\-328 .5\\-312 .4\\-296 .1\\-280 .3\\-256 .5\\}
\C{-342}{-448 .5\\-432 0\\-400 .2\\-384 .5\\-368 .5\\-352 .4\\-336 .5\\-320 .2\\-304 .5\\-288 .1\\-264 .5\\-248 -.1\\}
\C{-89}{-283 .5\\}\C{-82}{-259 .55\\}\C{-76}{-232 .5\\}\C{-98}{-272 .2\\-256 .5\\-243 .1\\}\C{-104}{-283 .6\\}\C{-117}{-246 .05\\}\C{-108}{-205 -.05\\}\C{-123}{-230 .5\\}\C{-130}{-270 .6\\-217 .5\\-133 .5\\-113 .5\\}\C{-132}{-243 -.3\\}\C{-142}{-283 .55\\-260 .6\\}\C{-138}{-230 .4\\}\C{-157}{-183 0\\}\C{-161}{-194 0\\-270 .5\\}\C{-165}{-177 -.3\\}\C{-190}{-141 0\\}\C{-206}{-141 .4\\}\C{-167}{-205 .3\\}\C{-174}{-230 .5\\}\C{-148}{-296 .6\\}
\C{-225}{-247 -.3\\-181 -.3\\}\C{-235}{-243 0\\}\C{-243}{-181 0\\}\C{-212}{-205 .4\\-181 .5\\-230 0\\}\C{-237}{-194 0\\-205 0\\}\C{-244}{-220 .5\\}\C{-265}{-163 0\\}\C{-267}{-220 .1\\}\C{-269}{-205 0\\}\C{-285}{-154 .6\\}\C{-294}{-216 -.3\\}\C{-302}{-177 0\\-205 0\\}\C{-317}{-205 0\\}\C{-339}{-193 0\\-316 .2\\}\C{-364}{-153 -.3\\-232 -.3\\-181 .4\\}\C{-392}{-181 0\\}\C{-412}{-193 .5\\}\C{-421}{-181 .5\\}\C{-431}{-243 0\\}\C{-439}{-153 -.3\\-205 .5\\}\C{-458}{-193 0\\}\C{-475}{-272 .5\\}\C{-515}{-126 -.3\\}\C{-348}{-77 .5\\}\C{-332}{-49 0\\}\C{-409}{-49 .3\\}\C{-405}{-362 0\\-336 .5\\}\C{-378}{-491 .4\\-412 0\\-438 .5\\}\C{-390}{-466 .3\\}\C{-371}{-435 -.3\\-402 0\\-347 0\\}\C{-367}{-376 .4\\}\C{-357}{-325 -.3\\}\C{-363}{-280 -.3\\}\C{-355}{-270 0\\}\C{-377}{-285 .5\\-336 .5\\}\C{-358}{-309 .5\\}\C{-349}{-256 0\\}\C{-345}{-296 .5\\}
\addplot[only marks,mark=o,mark size=2.4pt,mark options={draw={rgb,255:red,50;green,130;blue,240},line width=.7pt}] coordinates {(-472,-199)(-422,-227)(-395,-244)(-372,-199)(-84,-213)};
\addplot[only marks,mark=square*,mark size=2pt,mark options={fill={rgb,255:red,255;green,0;blue,220},draw={rgb,255:red,255;green,0;blue,220}}] coordinates {(-395,-187)(-395,-178)};
\end{axis}
\draw[black,line width=1pt,fill=white] (527pt,402pt) rectangle (904pt,422pt);
\Tx{712.5}{17}{\fs{15.4}\bfseries E : 1421.3 TeV,\ \ Ne : 6258.7,\ \ Nu : 6.6, {\srf\mdseries θ} : 12.7°}
\Tx{228}{417}{\fs{21.3}Right Ascension(deg)}
\Tx[rotate=90]{19}{207}{\fs{21.3}Declination(deg)}
\Tx{234.7}{119}{\color{cy}\fs{15.1}\bfseries ARGO J2031+4157}
\Tx{299.5}{286}{\color{yl}\fs{15.2}\bfseries LHAASO J2032+416}
\Tx{206}{339}{\color{cy}\fs{15}\bfseries HAWC J2030+409}
\Tx{194}{188}{\color{cy}\fs{11.6}\bfseries TeV J2032+4130}
\Tx{101}{274}{\color{cy}\fs{11.7}\bfseries VER J2019+407}
\Tx{261.7}{216}{\color{green!85!black}\fs{12.3}\bfseries Cyg OB2}
\Tx[anchor=west]{585}{52}{\fs{13}\bfseries ED}
\Tx[anchor=west]{585}{74}{\fs{13}\bfseries MD}
\Tx{713}{393}{\fs{12.6}\bfseries X[m]}
\Tx[rotate=90]{529}{198}{\fs{12.6}\bfseries Y[m]}
\Tx[rotate=90]{928}{54}{\fs{16.6}\bfseries log(n)}
\end{tikzpicture}
\end{document}
